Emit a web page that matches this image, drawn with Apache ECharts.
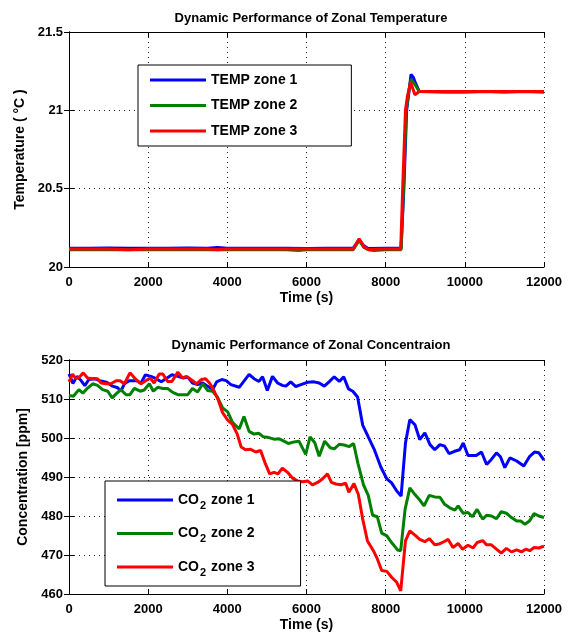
<!DOCTYPE html>
<html>
<head>
<meta charset="utf-8">
<script src="https://cdn.jsdelivr.net/npm/echarts@6/dist/echarts.min.js"></script>
<style>
html,body{margin:0;padding:0;background:#fff;}
#chart{width:571px;height:633px;}
</style>
</head>
<body>
<div id="chart"></div>
<script>
// ---------- Top chart: zonal temperature ----------
var tempTitle = 'Dynamic Performance of Zonal Temperature';
var tempNames = ['TEMP zone 1', 'TEMP zone 2', 'TEMP zone 3'];
var tempT1 = [0,500,1000,1500,2000,2500,3000,3500,3750,4000,4500,5000,5500,6000,6500,7000,7180,7330,7450,7560,8000,8390,8460,8530,8580,8640,8700,8760,8850,9500,10000,10500,11000,11500,12000];
var tempV1 = [20.12,20.12,20.122,20.12,20.12,20.12,20.122,20.12,20.125,20.12,20.12,20.12,20.12,20.118,20.12,20.12,20.12,20.175,20.135,20.118,20.12,20.12,20.5,21.0,21.1,21.23,21.21,21.17,21.12,21.12,21.12,21.12,21.12,21.12,21.12];
var tempT2 = [0,500,1000,1500,2000,2500,3000,3500,4000,4500,5000,5500,5800,6000,6500,7000,7180,7330,7450,7560,7700,8000,8390,8450,8520,8570,8640,8750,8850,9500,10000,10500,11000,11500,12000];
var tempV2 = [20.11,20.11,20.112,20.11,20.11,20.11,20.11,20.11,20.11,20.11,20.11,20.11,20.105,20.11,20.11,20.11,20.11,20.17,20.125,20.11,20.105,20.11,20.11,20.5,21.0,21.1,21.2,21.16,21.12,21.115,21.115,21.12,21.115,21.12,21.115];
var tempT3 = [0,500,1000,1500,2000,2500,3000,3500,3750,4000,4500,5000,5500,6000,6500,7000,7180,7330,7450,7560,8000,8380,8430,8500,8550,8630,8740,8850,9500,10000,10500,11000,11500,12000];
var tempV3 = [20.115,20.115,20.115,20.11,20.115,20.115,20.115,20.115,20.11,20.115,20.115,20.115,20.115,20.115,20.115,20.115,20.115,20.18,20.13,20.112,20.115,20.115,20.5,21.0,21.09,21.18,21.1,21.12,21.12,21.12,21.12,21.12,21.12,21.12];

// ---------- Bottom chart: zonal CO2 concentration ----------
var co2Title = 'Dynamic Performance of Zonal Concentraion';
var co2Zones = ['zone 1', 'zone 2', 'zone 3'];
var co2T1 = [0,100,200,300,400,500,650,800,950,1100,1230,1310,1400,1520,1700,1820,1930,2070,2200,2330,2450,2600,2750,2870,3000,3120,3250,3380,3500,3630,3730,3860,3970,4090,4300,4550,4675,4800,4890,5010,5140,5270,5390,5480,5600,5730,5860,6030,6190,6320,6450,6570,6700,6830,6940,7060,7170,7290,7420,7560,7710,7880,8030,8150,8280,8390,8500,8610,8740,8860,8990,9120,9240,9370,9490,9600,9740,9870,9960,10080,10290,10420,10550,10670,10800,10900,11010,11140,11310,11490,11640,11760,11870,12000];
var co2V1 = [516.4,514.0,515.8,514.8,513.4,515.0,515.2,514.6,514.3,513.3,512.9,512.0,513.9,514.7,514.7,514.1,516.2,515.8,515.2,514.4,515.2,516.2,515.8,515.4,515.6,514.1,513.7,514.1,513.3,512.4,514.4,515.0,514.7,513.7,513.0,516.3,515.2,514.5,515.7,512.2,515.8,514.1,513.5,513.3,514.4,513.2,513.7,514.3,514.4,514.1,513.3,514.4,515.7,514.5,515.7,512.6,512.0,510.5,503.3,500.3,497.1,492.5,489.5,488.5,486.4,485.1,498.7,504.7,503.4,499.6,501.3,498.3,497.0,498.3,497.9,496.0,496.6,497.0,498.7,495.5,495.5,496.4,493.2,494.5,496.2,495.2,492.4,494.9,494.1,492.8,495.3,496.4,496.2,494.3];
var co2T2 = [0,110,250,350,470,600,720,850,980,1090,1190,1310,1440,1540,1650,1800,1900,2030,2130,2240,2370,2490,2620,2750,2870,3000,3120,3250,3380,3500,3630,3750,3880,4010,4130,4300,4420,4550,4675,4800,4910,5050,5180,5310,5430,5540,5690,5810,5980,6090,6210,6320,6460,6600,6700,6830,6950,7080,7190,7300,7440,7560,7670,7790,7900,8030,8150,8300,8380,8490,8610,8740,8860,8970,9100,9240,9370,9490,9620,9750,9830,9960,10080,10190,10310,10450,10550,10670,10800,10920,11050,11180,11310,11410,11520,11630,11750,11870,12000];
var co2V2 = [510.9,510.7,512.4,511.5,512.8,513.9,513.5,512.4,512.0,510.3,511.3,512.4,511.1,511.1,512.7,512.0,512.3,513.9,512.0,513.0,512.7,512.7,511.7,511.1,511.1,511.1,512.7,511.8,513.9,512.2,512.0,510.5,507.7,506.7,504.0,502.3,505.5,501.7,501.0,501.2,500.3,500.1,499.7,499.8,499.2,498.6,499.0,499.2,495.8,500.3,498.8,495.3,499.2,497.5,497.2,498.4,498.2,497.8,498.6,493.5,488.0,485.3,480.2,479.8,475.6,474.9,473.2,471.3,471.1,481.7,487.2,485.5,484.1,482.6,485.3,484.9,484.8,483.0,482.1,481.5,482.6,480.7,480.9,479.8,481.7,479.2,480.2,480.0,479.3,481.1,480.7,479.6,478.7,478.7,477.9,478.7,480.6,480.0,479.6];
var co2T3 = [0,90,170,260,360,470,600,720,810,940,1060,1190,1290,1400,1540,1690,1820,1940,2050,2150,2280,2370,2490,2600,2750,2870,2970,3080,3220,3350,3450,3550,3650,3780,3880,4010,4130,4250,4350,4460,4590,4720,4840,4950,5070,5180,5280,5390,5520,5650,5770,5900,6030,6150,6280,6400,6530,6630,6740,6870,6990,7070,7200,7310,7420,7540,7690,7790,7900,8030,8150,8280,8380,8500,8610,8740,8860,8990,9100,9240,9370,9470,9580,9700,9830,9940,10080,10210,10310,10450,10550,10670,10800,10920,11050,11180,11310,11430,11540,11640,11750,11870,12000];
var co2V3 = [514.4,516.4,515.2,515.6,516.7,515.4,515.2,515.2,514.1,513.9,513.9,514.7,514.7,513.9,516.7,515.0,513.9,514.7,515.4,514.1,516.4,516.4,514.5,514.5,516.9,515.4,515.8,515.0,513.9,515.0,515.2,514.1,512.4,509.5,506.5,504.6,503.5,501.0,497.7,497.0,497.1,496.4,496.8,493.7,490.8,491.2,490.8,492.3,491.2,489.7,489.0,488.8,489.0,488.0,488.6,489.5,490.8,488.6,488.2,488.0,488.4,486.1,488.3,485.5,479.2,473.6,471.1,469.0,466.0,465.8,464.3,463.0,460.8,473.6,476.2,475.1,474.0,473.4,474.2,472.6,472.9,473.4,474.0,471.9,473.0,471.5,472.5,471.8,473.2,473.7,472.6,472.6,471.5,470.5,471.7,470.8,471.3,470.8,471.5,471.1,471.9,471.8,472.3];

var xTicks = [0, 2000, 4000, 6000, 8000, 10000, 12000];
var tempTicks = [20, 20.5, 21, 21.5];
var co2Ticks = [460, 470, 480, 490, 500, 510, 520];

var colors = ['#0000ff', '#008000', '#ff0000'];
var FONT = 'Liberation Sans';

function pairs(t, v) { return t.map(function (x, i) { return [x, v[i]]; }); }
function plain(v) { return String(v); }

var gridDefs = [
  { left: 69, right: 27, top: 32, height: 235 },
  { left: 69, right: 27, top: 360, height: 235 }
];
var dotted = { show: true, lineStyle: { color: '#222', width: 1, type: [1, 4] } };
var labelStyle = { fontFamily: FONT, fontSize: 13, fontWeight: 'bold', color: '#000', formatter: plain };

var xAxes = [], yAxes = [];
[0, 1].forEach(function (g) {
  xAxes.push({
    type: 'value', gridIndex: g, min: xTicks[0], max: xTicks[xTicks.length - 1], interval: 2000,
    position: 'bottom',
    name: 'Time (s)', nameLocation: 'middle', nameGap: 24,
    nameTextStyle: { fontFamily: FONT, fontSize: 14, fontWeight: 'bold', color: '#000' },
    axisLine: { show: true, lineStyle: { color: '#000', width: 1 } },
    axisTick: { show: true, inside: true, length: 5, lineStyle: { color: '#000' } },
    axisLabel: Object.assign({ margin: 9 }, labelStyle),
    splitLine: dotted
  });
  xAxes.push({
    type: 'value', gridIndex: g, min: xTicks[0], max: xTicks[xTicks.length - 1], interval: 2000,
    position: 'top',
    axisLine: { show: true, lineStyle: { color: '#000', width: 1 } },
    axisTick: { show: true, inside: true, length: 5, lineStyle: { color: '#000' } },
    axisLabel: { show: false }, splitLine: { show: false }
  });
});
var yDefs = [
  { ticks: tempTicks, interval: 0.5, name: 'Temperature ( \u00b0C )', gap: 37 },
  { ticks: co2Ticks, interval: 10, name: 'Concentration [ppm]', gap: 34 }
];
yDefs.forEach(function (d, g) {
  yAxes.push({
    type: 'value', gridIndex: g, min: d.ticks[0], max: d.ticks[d.ticks.length - 1], interval: d.interval,
    position: 'left',
    name: d.name, nameLocation: 'middle', nameGap: d.gap,
    nameTextStyle: { fontFamily: FONT, fontSize: 14, fontWeight: 'bold', color: '#000' },
    axisLine: { show: true, lineStyle: { color: '#000', width: 1 } },
    axisTick: { show: true, inside: true, length: 5, lineStyle: { color: '#000' } },
    axisLabel: Object.assign({ margin: 6 }, labelStyle),
    splitLine: dotted
  });
  yAxes.push({
    type: 'value', gridIndex: g, min: d.ticks[0], max: d.ticks[d.ticks.length - 1], interval: d.interval,
    position: 'right',
    axisLine: { show: true, lineStyle: { color: '#000', width: 1 } },
    axisTick: { show: true, inside: true, length: 5, lineStyle: { color: '#000' } },
    axisLabel: { show: false }, splitLine: { show: false }
  });
});

var tempData = [pairs(tempT1, tempV1), pairs(tempT2, tempV2), pairs(tempT3, tempV3)];
var co2Data = [pairs(co2T1, co2V1), pairs(co2T2, co2V2), pairs(co2T3, co2V3)];
var co2Names = co2Zones.map(function (z) { return 'CO2 ' + z; });

var series = [];
tempData.forEach(function (d, i) {
  series.push({
    type: 'line', name: tempNames[i], xAxisIndex: 0, yAxisIndex: 0, data: d,
    showSymbol: false, symbol: 'none', animation: false,
    lineStyle: { color: colors[i], width: 3 }, itemStyle: { color: colors[i] }
  });
});
co2Data.forEach(function (d, i) {
  series.push({
    type: 'line', name: co2Names[i], xAxisIndex: 2, yAxisIndex: 2, data: d,
    showSymbol: false, symbol: 'none', animation: false,
    lineStyle: { color: colors[i], width: 3 }, itemStyle: { color: colors[i] }
  });
});

var chart = echarts.init(document.getElementById('chart'), null, { renderer: 'canvas' });
chart.setOption({
  backgroundColor: '#fff',
  animation: false,
  title: [
    { text: tempTitle, left: 306, top: 7, textAlign: 'center',
      textStyle: { fontFamily: FONT, fontSize: 13, fontWeight: 'bold', color: '#000' } },
    { text: co2Title, left: 306, top: 334, textAlign: 'center',
      textStyle: { fontFamily: FONT, fontSize: 13, fontWeight: 'bold', color: '#000' } }
  ],
  legend: [
    {
      data: tempNames, orient: 'vertical', left: 138, top: 65,
      icon: 'rect',
      padding: [8, 54, 8, 12], itemGap: 11.5, itemWidth: 56, itemHeight: 3, itemTextGap: 7,
      borderColor: '#000', borderWidth: 1, backgroundColor: '#fff',
      textStyle: { fontFamily: FONT, fontSize: 14, fontWeight: 'bold', color: '#000' }
    },
    {
      data: co2Names, orient: 'vertical', left: 105, top: 481,
      icon: 'rect',
      padding: [12, 46, 8, 12], itemGap: 15.5, itemWidth: 56, itemHeight: 3, itemTextGap: 7,
      borderColor: '#000', borderWidth: 1, backgroundColor: '#fff',
      formatter: function (n) { return 'CO{sub|2} ' + n.slice(4); },
      textStyle: { fontFamily: FONT, fontSize: 14, fontWeight: 'bold', color: '#000',
        rich: { sub: { fontFamily: FONT, fontSize: 11, fontWeight: 'bold', color: '#000', verticalAlign: 'top', padding: [11, 1, 0, 1] } } }
    }
  ],
  grid: gridDefs,
  xAxis: xAxes,
  yAxis: yAxes,
  series: series
});
</script>
</body>
</html>
